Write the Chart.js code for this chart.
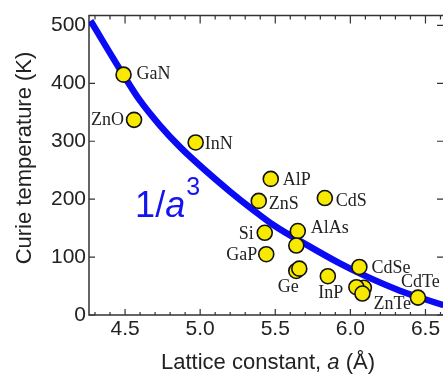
<!DOCTYPE html>
<html>
<head>
<meta charset="utf-8">
<script src="https://cdn.jsdelivr.net/npm/chart.js@4"></script>
<style>
  html, body { margin: 0; padding: 0; background: #fff; overflow: hidden; }
  #wrap { width: 443px; height: 378px; overflow: hidden; }
</style>
</head>
<body>
<div id="wrap"><canvas id="chart" width="460" height="378"></canvas></div>
<script>
// compounds and their values
const compounds = ["GaN", "ZnO", "InN", "AlP", "ZnS", "CdS", "Si", "AlAs", "", "GaP", "", "Ge", "InP", "CdSe", "", "", "ZnTe", "CdTe"];
const latticeA = [4.49, 4.56, 4.97, 5.47, 5.39, 5.83, 5.43, 5.65, 5.64, 5.44, 5.64, 5.66, 5.85, 6.06, 6.09, 6.04, 6.08, 6.45];
const curieT  = [415, 337, 298, 235, 197, 202, 142, 145, 120, 105, 76, 80, 67, 83, 47, 48, 37, 30];

// the 1/a^3 guide curve
const curveA = [4.27, 4.50, 4.60, 4.73, 4.87, 5.02, 5.20, 5.35, 5.49, 5.71, 5.93, 6.07, 6.33, 6.62];
const curveT = [508, 410, 370, 328, 289, 253, 213, 182, 155, 121, 89, 71, 42, 17];

const xTicks = [4.5, 5.0, 5.5, 6.0, 6.5];
const yTicks = [0, 100, 200, 300, 400, 500];
const xMin = 4.26, xMax = 6.63, yMin = 0, yMax = 517;

// label placement: [dx, dy, align]
const labelPos = [
  [13, 0, "left"], [-10, 0, "right"], [9, 2, "left"], [12, 1, "left"], [10, 3, "left"],
  [11, 3, "left"], [-11, 1, "right"], [13, -3, "left"], [0, 0, "left"], [-9, 1, "right"],
  [0, 0, "left"], [-11, 19, "center"], [3, 17, "center"], [12, 1, "left"], [0, 0, "left"],
  [0, 0, "left"], [11, 11, "left"], [-17, -15, "left"]
];

const sans = "'Liberation Sans', Arial, sans-serif";
const serif = "'Liberation Serif', 'Times New Roman', serif";
const ink = "#222";

const decor = {
  id: "decor",
  beforeDatasetsDraw(chart) {
    const { ctx, chartArea: a, scales: { x, y } } = chart;
    ctx.save();
    ctx.strokeStyle = "#333";
    ctx.lineWidth = 1.5;
    ctx.beginPath();
    ctx.moveTo(a.right, a.top); ctx.lineTo(a.left, a.top);
    ctx.lineTo(a.left, a.bottom); ctx.lineTo(a.right, a.bottom);
    ctx.stroke();
    // x ticks, inward, top and bottom
    ctx.lineWidth = 1.2;
    for (let i = 43; i <= 66; i++) {
      const v = i / 10;
      const px = x.getPixelForValue(v);
      const major = i % 5 === 0;
      ctx.beginPath();
      ctx.moveTo(px, a.bottom); ctx.lineTo(px, a.bottom - (major ? 6 : 3));
      ctx.moveTo(px, a.top); ctx.lineTo(px, a.top + (major ? 8 : 4));
      ctx.stroke();
    }
    yTicks.forEach(v => {
      const py = y.getPixelForValue(v);
      ctx.beginPath();
      ctx.moveTo(a.left, py); ctx.lineTo(a.left + 6, py);
      ctx.moveTo(a.right, py); ctx.lineTo(a.right - 8, py);
      ctx.stroke();
    });
    ctx.restore();
  },
  afterDatasetsDraw(chart) {
    const { ctx, scales: { x, y } } = chart;
    ctx.save();
    // point labels
    ctx.fillStyle = ink;
    ctx.font = "18px " + serif;
    ctx.textBaseline = "middle";
    compounds.forEach((name, i) => {
      if (!name) return;
      const [dx, dy, align] = labelPos[i];
      ctx.textAlign = align;
      ctx.fillText(name, x.getPixelForValue(latticeA[i]) + dx, y.getPixelForValue(curieT[i]) + dy);
    });

    // 1/a^3 annotation
    ctx.fillStyle = "#1414f0";
    ctx.textAlign = "left";
    ctx.textBaseline = "alphabetic";
    let px = x.getPixelForValue(4.567);
    const base = y.getPixelForValue(170);
    ctx.font = "36px " + sans;
    ctx.fillText("1/", px, base);
    px += ctx.measureText("1/").width;
    ctx.font = "italic 36px " + sans;
    ctx.fillText("a", px, base);
    px += ctx.measureText("a").width + 1;
    ctx.font = "25px " + sans;
    ctx.fillText("3", px, base - 22);

    // axis titles
    ctx.fillStyle = ink;
    ctx.textBaseline = "middle";
    const parts = [["Lattice constant, ", ""], ["a", "italic "], [" (Å)", ""]];
    let total = 0;
    parts.forEach(p => { ctx.font = p[1] + "22px " + sans; total += ctx.measureText(p[0]).width; });
    let tx = 268 - total / 2;
    parts.forEach(p => {
      ctx.font = p[1] + "22px " + sans;
      ctx.fillText(p[0], tx, 363);
      tx += ctx.measureText(p[0]).width;
    });
    ctx.translate(25, 158);
    ctx.rotate(-Math.PI / 2);
    ctx.textAlign = "center";
    ctx.font = "22px " + sans;
    ctx.fillText("Curie temperature (K)", 0, 0);
    ctx.restore();
  }
};

new Chart(document.getElementById("chart"), {
  type: "scatter",
  data: {
    datasets: [
      {
        label: "compounds",
        data: latticeA.map((v, i) => ({ x: v, y: curieT[i] })),
        pointRadius: 7.5,
        pointHoverRadius: 7.5,
        pointBackgroundColor: "#f7ea00",
        pointBorderColor: "#111",
        pointBorderWidth: 1.6,
        order: 0
      },
      {
        label: "1/a^3",
        data: curveA.map((v, i) => ({ x: v, y: curveT[i] })),
        showLine: true,
        borderColor: "#0a0af5",
        borderWidth: 6.5,
        pointRadius: 0,
        cubicInterpolationMode: "monotone",
        order: 1
      }
    ]
  },
  options: {
    responsive: false,
    animation: false,
    devicePixelRatio: 1,
    layout: { padding: { left: 0, top: 5, right: 15, bottom: 0 } },
    plugins: { legend: { display: false }, tooltip: { enabled: false } },
    scales: {
      x: {
        type: "linear", min: xMin, max: xMax,
        grid: { display: false, drawTicks: false },
        border: { display: false },
        afterBuildTicks(s) { s.ticks = xTicks.map(v => ({ value: v })); },
        afterFit(s) { s.height = 63; },
        ticks: { color: ink, font: { family: sans, size: 21 }, padding: 2, maxRotation: 0,
                 callback: v => v.toFixed(1) }
      },
      y: {
        min: yMin, max: yMax,
        grid: { display: false, drawTicks: false },
        border: { display: false },
        afterBuildTicks(s) { s.ticks = yTicks.map(v => ({ value: v })); },
        afterFit(s) { s.width = 89; },
        ticks: { color: ink, font: { family: sans, size: 21 }, padding: 3 }
      }
    }
  },
  plugins: [decor]
});
</script>
</body>
</html>
